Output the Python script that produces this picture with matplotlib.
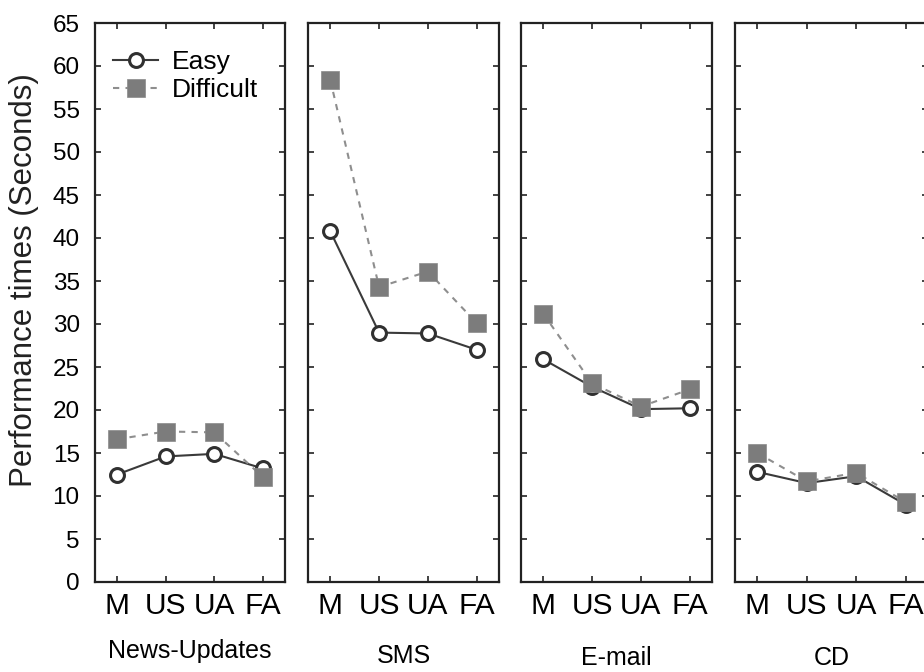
import matplotlib
matplotlib.use("Agg")
import matplotlib.pyplot as plt

plt.rcParams['font.family'] = ['Liberation Sans', 'DejaVu Sans']

categories = ["M", "US", "UA", "FA"]
panels = ["News-Updates", "SMS", "E-mail", "CD"]
easy = [
    [12.5, 14.6, 14.9, 13.2],
    [40.8, 29.0, 28.9, 27.0],
    [25.9, 22.7, 20.1, 20.2],
    [12.8, 11.5, 12.3, 9.0],
]
difficult = [
    [16.6, 17.5, 17.4, 12.2],
    [58.4, 34.3, 36.1, 30.1],
    [31.2, 23.1, 20.4, 22.4],
    [15.0, 11.7, 12.7, 9.3],
]
yticks = list(range(0, 66, 5))

W, H = 924, 672
fig = plt.figure(figsize=(W / 100, H / 100), dpi=100)

lefts = [95, 308, 521, 735]
widths = [190, 191, 191, 193]
label_baselines = [658, 663, 665, 665]
bottom_px, top_px = 582, 23
x = list(range(len(categories)))

for i, name in enumerate(panels):
    ax = fig.add_axes([lefts[i] / W, (H - bottom_px) / H, widths[i] / W,
                       (bottom_px - top_px) / H])
    ax.plot(x, easy[i], '-', color='#3a3a3a', lw=1.5, marker='o', ms=10,
            mfc='white', mec='#303030', mew=2.2, label='Easy', zorder=3)
    ax.plot(x, difficult[i], '--', color='#8e8e8e', lw=1.5, marker='s', ms=13,
            mfc='#7c7c7c', mec='#8a8a8a', mew=0.5, label='Difficult', zorder=4,
            dashes=(3, 3))
    ax.set_xlim(-0.455, 3.455)
    ax.set_ylim(0, 65)
    ax.set_yticks(yticks)
    ax.set_xticks(x)
    ax.set_xticklabels(categories, fontsize=21.5)
    ax.tick_params(direction='in', length=4, width=1.2, top=True, right=True,
                   colors='#222222', labelcolor='black')
    ax.tick_params(axis='x', pad=7)
    ax.tick_params(axis='y', labelsize=17.5, pad=11)
    if i > 0:
        ax.tick_params(axis='y', labelleft=False)
    for s in ax.spines.values():
        s.set_linewidth(1.6)
        s.set_color('#222222')
    fig.text((lefts[i] + widths[i] / 2) / W, 1 - label_baselines[i] / H, name,
             ha='center', va='baseline', fontsize=18)
    if i == 0:
        ax.legend(loc='upper left', frameon=False, fontsize=19, handlelength=1.7,
                  handletextpad=0.5, borderaxespad=0.3, labelspacing=0.15,
                  bbox_to_anchor=(0.0, 0.985))

fig.text(24 / W, 1 - 280 / H, "Performance times (Seconds)", rotation=90,
         ha='center', va='center', fontsize=22.5, color='#222222')

fig.savefig("out.png", dpi=100)
